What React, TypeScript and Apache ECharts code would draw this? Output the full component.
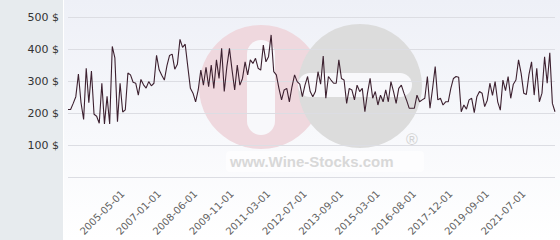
import React, { useEffect, useRef } from "react";
import * as echarts from "echarts";

const dates: string[] = [
  "2003-03-01","2003-04-01","2003-06-01","2003-07-01","2003-08-01","2003-09-01","2003-11-01","2003-12-01","2004-01-01","2004-02-01",
  "2004-03-01","2004-05-01","2004-06-01","2004-07-01","2004-08-01","2004-10-01","2004-11-01","2004-12-01","2005-01-01","2005-02-01",
  "2005-03-01","2005-05-01","2005-06-01","2005-08-01","2005-09-01","2005-11-01","2005-12-01","2006-02-01","2006-03-01","2006-05-01",
  "2006-06-01","2006-08-01","2006-09-01","2006-10-01","2006-11-01","2007-01-01","2007-02-01","2007-03-01","2007-05-01","2007-06-01",
  "2007-07-01","2007-08-01","2007-10-01","2007-11-01","2007-12-01","2008-01-01","2008-02-01","2008-03-01","2008-04-01","2008-06-01",
  "2008-07-01","2008-08-01","2008-10-01","2008-11-01","2008-12-01","2009-01-01","2009-02-01","2009-04-01","2009-05-01","2009-06-01",
  "2009-07-01","2009-08-01","2009-09-01","2009-11-01","2009-12-01","2010-01-01","2010-02-01","2010-04-01","2010-05-01","2010-06-01",
  "2010-07-01","2010-08-01","2010-09-01","2010-10-01","2010-11-01","2010-12-01","2011-01-01","2011-03-01","2011-04-01","2011-05-01",
  "2011-06-01","2011-08-01","2011-09-01","2011-10-01","2011-11-01","2011-12-01","2012-01-01","2012-02-01","2012-03-01","2012-04-01",
  "2012-05-01","2012-07-01","2012-08-01","2012-09-01","2012-10-01","2012-11-01","2012-12-01","2013-01-01","2013-02-01","2013-03-01",
  "2013-04-01","2013-05-01","2013-06-01","2013-07-01","2013-08-01","2013-09-01","2013-10-01","2013-12-01","2014-01-01","2014-02-01",
  "2014-04-01","2014-05-01","2014-06-01","2014-07-01","2014-09-01","2014-10-01","2014-11-01","2014-12-01","2015-01-01","2015-03-01",
  "2015-04-01","2015-05-01","2015-07-01","2015-08-01","2015-09-01","2015-10-01","2015-11-01","2016-01-01","2016-02-01","2016-03-01",
  "2016-04-01","2016-05-01","2016-06-01","2016-08-01","2016-09-01","2016-10-01","2016-11-01","2016-12-01","2017-02-01","2017-03-01",
  "2017-04-01","2017-05-01","2017-06-01","2017-07-01","2017-08-01","2017-09-01","2017-10-01","2017-12-01","2018-01-01","2018-03-01",
  "2018-04-01","2018-06-01","2018-07-01","2018-09-01","2018-10-01","2018-12-01","2019-01-01","2019-03-01","2019-04-01","2019-06-01",
  "2019-07-01","2019-09-01","2019-10-01","2019-12-01","2020-02-01","2020-03-01","2020-05-01","2020-06-01","2020-08-01","2020-09-01",
  "2020-11-01","2020-12-01","2021-02-01","2021-03-01","2021-05-01","2021-07-01","2021-08-01","2021-10-01","2021-11-01","2022-01-01",
  "2022-02-01","2022-04-01","2022-05-01","2022-07-01","2022-08-01","2022-10-01","2022-11-01","2023-01-01",
];

const prices: number[] = [
  211, 211, 230, 251, 322, 232, 180, 340, 232, 331,
  196, 190, 168, 293, 166, 252, 166, 408, 372, 173,
  293, 203, 210, 325, 319, 296, 293, 256, 305, 288,
  278, 298, 285, 293, 380, 335, 318, 303, 348, 380,
  384, 337, 352, 430, 405, 415, 345, 277, 262, 235,
  272, 334, 287, 343, 282, 350, 277, 366, 308, 402,
  267, 345, 402, 334, 272, 350, 287, 308, 360, 319,
  366, 355, 371, 340, 334, 412, 360, 376, 444, 329,
  319, 277, 241, 272, 277, 235, 282, 319, 298, 290,
  251, 287, 314, 267, 251, 267, 329, 290, 378, 246,
  314, 303, 293, 293, 366, 308, 303, 230, 277, 272,
  241, 287, 267, 277, 204, 262, 308, 246, 267, 225,
  256, 235, 272, 235, 298, 267, 230, 277, 287, 262,
  240, 215, 215, 215, 256, 235, 241, 246, 314, 215,
  277, 345, 241, 246, 225, 235, 235, 277, 308, 314,
  312, 204, 225, 212, 241, 246, 201, 251, 267, 262,
  220, 240, 293, 255, 298, 235, 209, 303, 270, 314,
  246, 290, 303, 366, 324, 262, 258, 320, 360, 256,
  340, 235, 262, 376, 293, 388, 230, 204,
];

const tickLabels: string[] = [
  "2005-05-01", "2007-01-01", "2008-06-01", "2009-11-01", "2011-03-01", "2012-07-01",
  "2013-09-01", "2015-03-01", "2016-08-01", "2017-12-01", "2019-09-01", "2021-07-01",
];

const yMin = 0;
const yMax = 500;
const yStep = 100;
const currency = "$";
const watermarkText = "www.Wine-Stocks.com";

export default function App() {
  const ref = useRef<HTMLDivElement>(null);

  useEffect(() => {
    document.body.style.margin = "0";
    const chart = echarts.init(ref.current!, null, { renderer: "svg" });
    chart.setOption({
      animation: false,
      backgroundColor: "#ffffff",
      grid: { left: 68, right: 5, top: 17, bottom: 63 },
      xAxis: {
        type: "category",
        data: dates,
        boundaryGap: false,
        axisLine: { show: false },
        axisTick: { show: false },
        splitLine: { show: false },
        axisLabel: {
          interval: (_i: number, v: string) => tickLabels.includes(v),
          rotate: 45,
          margin: 15,
          fontSize: 10,
          fontFamily: "DejaVu Sans",
          color: "#626262",
        },
      },
      yAxis: {
        type: "value",
        min: yMin,
        max: yMax,
        interval: yStep,
        axisLine: { show: false },
        axisTick: { show: false },
        axisLabel: {
          formatter: (v: number) => (v === 0 ? "" : `${v} ${currency}`),
          fontSize: 11,
          fontFamily: "DejaVu Sans",
          color: "#333333",
          margin: 9,
        },
        splitLine: { lineStyle: { color: "#dcdde3", width: 1 } },
      },
      series: [
        {
          type: "line",
          data: prices,
          symbol: "none",
          z: 5,
          lineStyle: { color: "#3d2130", width: 1.1 },
        },
      ],
      graphic: [
        {
          type: "rect",
          z: -100,
          silent: true,
          shape: { x: 0, y: 0, width: 63, height: 240 },
          style: { fill: "#e7ebee" },
        },
        {
          type: "rect",
          z: -100,
          silent: true,
          shape: { x: 64, y: 0, width: 496, height: 240 },
          style: {
            fill: new echarts.graphic.LinearGradient(0, 0, 0, 1, [
              { offset: 0, color: "#eef0f7" },
              { offset: 1, color: "#ffffff" },
            ]),
          },
        },
        {
          type: "circle",
          z: -50,
          silent: true,
          shape: { cx: 261, cy: 87, r: 62 },
          style: { fill: "#efd8de" },
        },
        {
          type: "circle",
          z: -50,
          silent: true,
          shape: { cx: 360, cy: 86, r: 62 },
          style: { fill: "#dcdcdc" },
        },
        {
          type: "rect",
          z: -40,
          silent: true,
          shape: { x: 247, y: 40, width: 28, height: 95, r: 14 },
          style: { fill: "#f8f8fb" },
        },
        {
          type: "rect",
          z: -40,
          silent: true,
          shape: { x: 298, y: 73, width: 114, height: 24, r: 12 },
          style: { fill: "#f8f8fb" },
        },
        {
          type: "rect",
          z: -40,
          silent: true,
          shape: { x: 226, y: 151, width: 198, height: 21, r: 4 },
          style: { fill: "rgba(255,255,255,0.6)" },
        },
        {
          type: "text",
          z: -30,
          silent: true,
          style: {
            x: 230,
            y: 161,
            text: watermarkText,
            font: "bold 15px 'Liberation Sans', Arial, sans-serif",
            fill: "#d8d8d8",
            verticalAlign: "middle",
          },
        },
        {
          type: "text",
          z: -30,
          silent: true,
          style: {
            x: 412,
            y: 139,
            text: "®",
            font: "16px 'Liberation Sans', Arial, sans-serif",
            fill: "#d2d2d2",
            align: "center",
            verticalAlign: "middle",
          },
        },
      ],
    });
    return () => chart.dispose();
  }, []);

  return <div ref={ref} style={{ width: 560, height: 240 }} />;
}
